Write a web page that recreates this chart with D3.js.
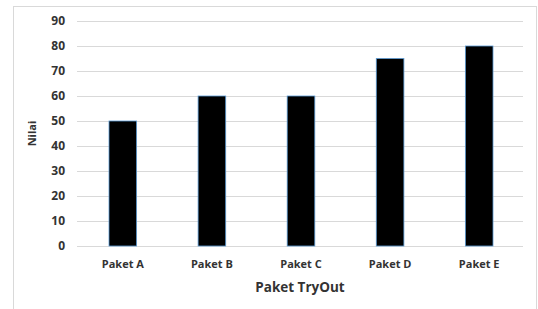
<!DOCTYPE html>
<html>
<head>
<meta charset="utf-8">
<script src="https://cdn.jsdelivr.net/npm/d3@7"></script>
<style>
  body { margin: 0; background: #fff; }
  text { font-family: "Open Sans", sans-serif; font-weight: bold; fill: #333; }
</style>
</head>
<body>
<div id="chart"></div>
<script>
var categories = ["Paket A", "Paket B", "Paket C", "Paket D", "Paket E"];
var values = [50, 60, 60, 75, 80];
var yTicks = [0, 10, 20, 30, 40, 50, 60, 70, 80, 90];

var width = 538,
    height = 309;
var margin = { top: 21, right: 15, bottom: 63, left: 77 };

var svg = d3.select("#chart").append("svg")
    .attr("width", width)
    .attr("height", height);

// chart frame
svg.append("rect")
    .attr("x", 13.5).attr("y", 6.5)
    .attr("width", 523).attr("height", 310)
    .style("fill", "none")
    .style("stroke", "#d9d9d9");

var x = d3.scaleBand()
    .domain(categories)
    .range([margin.left + 1, width - margin.right + 1])
    .paddingInner(0.69)
    .paddingOuter(0.348);

var y = d3.scaleLinear()
    .domain([0, 90])
    .range([height - margin.bottom, margin.top]);

// gridlines
svg.append("g")
    .selectAll("line")
    .data(yTicks)
    .enter()
    .append("line")
    .attr("x1", margin.left)
    .attr("x2", width - margin.right)
    .attr("y1", function(d) { return Math.round(y(d)) + 0.5; })
    .attr("y2", function(d) { return Math.round(y(d)) + 0.5; })
    .style("stroke", "#d9d9d9")
    .style("stroke-width", 1);

// y axis labels
var yAxis = d3.axisLeft(y).tickValues(yTicks).tickSize(0).tickPadding(12);
var gy = svg.append("g")
    .attr("transform", "translate(" + margin.left + ",0)")
    .call(yAxis);
gy.select(".domain").remove();
gy.selectAll("text").style("font-size", "12px").style("font-family", null);

// bars
svg.append("g")
    .selectAll("rect")
    .data(values)
    .enter()
    .append("rect")
    .attr("x", function(d, i) { return x(categories[i]); })
    .attr("y", function(d) { return y(d); })
    .attr("width", x.bandwidth())
    .attr("height", function(d) { return y(0) - y(d); })
    .style("fill", "#000")
    .style("stroke", "#5b9bd5")
    .style("stroke-width", 0.8);

// x axis labels
var xAxis = d3.axisBottom(x).tickSize(0).tickPadding(14);
var gx = svg.append("g")
    .attr("transform", "translate(0," + y(0) + ")")
    .call(xAxis);
gx.select(".domain").remove();
gx.selectAll("text").style("font-size", "11px").style("font-family", null);

// axis titles
svg.append("text")
    .attr("x", (margin.left + width - margin.right) / 2)
    .attr("y", 292)
    .attr("text-anchor", "middle")
    .style("font-size", "13.5px")
    .text("Paket TryOut");

svg.append("text")
    .attr("transform", "translate(36," + (y(45)) + ") rotate(-90)")
    .attr("text-anchor", "middle")
    .style("font-size", "11px")
    .text("Nilai");
</script>
</body>
</html>
